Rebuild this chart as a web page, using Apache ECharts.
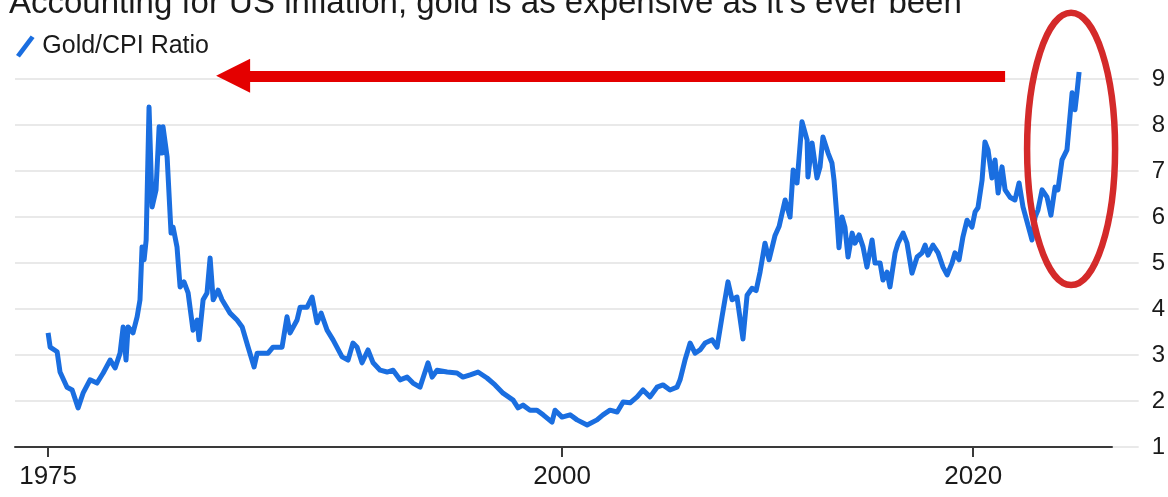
<!DOCTYPE html>
<html>
<head>
<meta charset="utf-8">
<script src="https://cdn.jsdelivr.net/npm/echarts@6/dist/echarts.min.js"></script>
<style>
  html, body { margin: 0; padding: 0; background: #ffffff; }
  #chart { width: 1168px; height: 497px; }
</style>
</head>
<body>
<div id="chart"></div>
<script>
// ---- data ----
const titleText = "Accounting for US inflation, gold is as expensive as it's ever been";
const seriesName = "Gold/CPI Ratio";
const years = [
  1975.00,1975.10,1975.44,1975.58,1975.92,1976.17,1976.46,1976.70,1977.04,1977.38,
  1977.68,1978.02,1978.26,1978.50,1978.65,1978.79,1978.89,1979.13,1979.33,1979.47,
  1979.57,1979.67,1979.77,1979.91,1980.06,1980.25,1980.40,1980.54,1980.59,1980.79,
  1980.98,1981.08,1981.27,1981.42,1981.61,1981.81,1982.05,1982.25,1982.34,1982.54,
  1982.73,1982.88,1983.03,1983.27,1983.46,1983.85,1984.19,1984.44,1984.73,1985.02,
  1985.17,1985.46,1985.70,1985.94,1986.38,1986.62,1986.77,1987.11,1987.26,1987.60,
  1987.84,1988.08,1988.28,1988.57,1988.86,1989.30,1989.59,1989.83,1990.03,1990.27,
  1990.56,1990.81,1991.15,1991.49,1991.78,1992.12,1992.46,1992.75,1993.09,1993.48,
  1993.68,1993.92,1994.41,1994.89,1995.18,1995.53,1995.91,1996.35,1996.74,1997.13,
  1997.62,1997.86,1998.10,1998.44,1998.78,1999.08,1999.51,1999.66,2000.00,2000.39,
  2000.73,2001.22,2001.70,2001.99,2002.33,2002.68,2002.97,2003.31,2003.65,2003.94,
  2004.28,2004.62,2004.91,2005.25,2005.59,2005.74,2005.98,2006.23,2006.47,2006.71,
  2006.96,2007.30,2007.54,2007.78,2008.07,2008.27,2008.51,2008.80,2009.00,2009.24,
  2009.44,2009.63,2009.87,2010.07,2010.36,2010.56,2010.85,2011.09,2011.24,2011.43,
  2011.67,2011.92,2011.96,2012.16,2012.40,2012.55,2012.69,2012.94,2013.13,2013.23,
  2013.37,2013.47,2013.62,2013.76,2013.91,2014.11,2014.25,2014.45,2014.64,2014.83,
  2015.08,2015.22,2015.47,2015.61,2015.81,2015.95,2016.20,2016.34,2016.59,2016.78,
  2017.02,2017.27,2017.51,2017.66,2017.80,2018.04,2018.29,2018.53,2018.73,2018.97,
  2019.11,2019.31,2019.50,2019.70,2019.94,2020.09,2020.23,2020.43,2020.57,2020.72,
  2020.91,2021.06,2021.21,2021.40,2021.55,2021.79,2022.03,2022.23,2022.42,2022.86,
  2023.01,2023.15,2023.35,2023.59,2023.78,2023.98,2024.12,2024.32,2024.56,2024.81,
  2024.95,2025.05,2025.15
];
const ratio = [
  3.48,3.17,3.07,2.63,2.30,2.24,1.85,2.17,2.46,2.39,
  2.61,2.89,2.72,3.04,3.61,2.89,3.61,3.48,3.83,4.20,
  5.35,5.07,5.50,8.39,6.22,6.59,7.96,7.39,7.96,7.30,
  5.65,5.78,5.35,4.48,4.59,4.35,3.54,3.76,3.33,4.20,
  4.35,5.11,4.20,4.41,4.20,3.91,3.76,3.61,3.17,2.74,
  3.04,3.04,3.04,3.17,3.17,3.83,3.48,3.76,4.04,4.04,
  4.26,3.70,3.91,3.54,3.33,2.96,2.89,3.26,3.17,2.83,
  3.11,2.83,2.67,2.63,2.67,2.46,2.52,2.39,2.30,2.83,
  2.52,2.67,2.63,2.61,2.52,2.57,2.63,2.50,2.35,2.17,
  2.02,1.85,1.91,1.80,1.80,1.70,1.54,1.80,1.65,1.70,
  1.59,1.48,1.59,1.70,1.80,1.76,1.98,1.96,2.09,2.24,
  2.09,2.30,2.35,2.24,2.30,2.46,2.89,3.26,3.04,3.11,
  3.26,3.33,3.17,3.83,4.59,4.20,4.26,3.35,4.30,4.45,
  4.40,4.80,5.43,5.07,5.60,5.80,6.37,6.00,7.02,6.74,
  8.07,7.67,6.87,7.61,6.85,7.09,7.74,7.39,7.17,6.80,
  6.00,5.33,6.00,5.78,5.13,5.65,5.43,5.61,5.35,4.91,
  5.50,5.00,5.00,4.63,4.80,4.48,5.22,5.43,5.65,5.43,
  4.78,5.13,5.22,5.39,5.17,5.39,5.22,4.91,4.74,5.00,
  5.22,5.07,5.57,5.93,5.78,6.11,6.20,6.80,7.63,7.46,
  6.85,7.24,6.52,7.09,6.59,6.43,6.37,6.74,6.22,5.50,
  6.00,6.15,6.59,6.43,6.04,6.65,6.59,7.24,7.46,8.70,
  8.33,8.72,9.15
];
const xTickYears = [1975, 2000, 2020];
// annotations (in data space)
const arrowFrom = [2021.55, 9.07];
const arrowTo = [1984.0, 9.07];
const circleCenter = [2024.76, 7.48];
const circleRadius = [2.14, 2.96];

// ---- chart ----
const FONT = "'Liberation Sans', Arial, Helvetica, sans-serif";
const chart = echarts.init(document.getElementById('chart'), null, { renderer: 'canvas' });
const seriesData = years.map((y, i) => [y, ratio[i]]);

const xMin = 1973.39, xMaxB = 2026.75, xMaxA = 2028.03;

chart.setOption({
  animation: false,
  backgroundColor: '#ffffff',
  textStyle: { fontFamily: FONT },
  title: {
    text: titleText,
    left: 4,
    top: -18,
    textStyle: { fontFamily: FONT, fontSize: 33, fontWeight: 'normal', color: '#1a1a1a' }
  },
  legend: {
    data: [seriesName],
    left: 11,
    top: 29,
    itemWidth: 20,
    itemHeight: 22,
    itemGap: 10,
    icon: 'path://M0,20 L15,0 L19,2.5 L4,22.5 Z',
    textStyle: { fontFamily: FONT, fontSize: 25, color: '#1a1a1a', padding: [0, 0, 0, 2] }
  },
  grid: [
    { left: 15, right: 28, top: 79, bottom: 50, containLabel: false },
    { left: 15, right: 56, top: 33, bottom: 50, containLabel: false }
  ],
  xAxis: [
    { gridIndex: 0, type: 'value', min: xMin, max: xMaxA, show: false },
    {
      gridIndex: 1, type: 'value', min: xMin, max: xMaxB,
      axisLine: { show: true, lineStyle: { color: '#3a3a3a', width: 2 } },
      axisTick: { show: true, length: 10, lineStyle: { color: '#3a3a3a', width: 2 }, customValues: xTickYears },
      axisLabel: {
        show: true, margin: 17, fontFamily: FONT, fontSize: 26, color: '#1a1a1a',
        customValues: xTickYears, formatter: v => String(Math.round(v))
      },
      splitLine: { show: false }
    }
  ],
  yAxis: [
    {
      gridIndex: 0, type: 'value', min: 1, max: 9, interval: 1, position: 'right',
      axisLine: { show: false }, axisTick: { show: false },
      axisLabel: { margin: 13, fontFamily: FONT, fontSize: 24, color: '#1a1a1a', align: 'left' },
      splitLine: { show: true, lineStyle: { color: '#e9e9e9', width: 2 } }
    },
    { gridIndex: 1, type: 'value', min: 1, max: 10, interval: 1, show: false }
  ],
  series: [{
    name: seriesName,
    type: 'line',
    xAxisIndex: 1,
    yAxisIndex: 1,
    data: seriesData,
    showSymbol: false,
    symbol: 'none',
    clip: false,
    color: '#1a6ee0',
    lineStyle: { color: '#1a6ee0', width: 5, join: 'round' },
    markLine: {
      silent: true,
      symbol: ['none', 'triangle'],
      symbolSize: [34, 34],
      label: { show: false },
      lineStyle: { color: '#e40000', width: 11, type: 'solid', opacity: 1 },
      data: [[{ coord: arrowFrom }, { coord: arrowTo }]]
    },
    z: 3
  }]
});

function drawEllipse() {
  const c = chart.convertToPixel({ gridIndex: 1 }, circleCenter);
  const e = chart.convertToPixel({ gridIndex: 1 }, [circleCenter[0] + circleRadius[0], circleCenter[1] + circleRadius[1]]);
  chart.setOption({
    graphic: [{
      type: 'ellipse',
      shape: { cx: c[0], cy: c[1], rx: Math.abs(e[0] - c[0]), ry: Math.abs(c[1] - e[1]) },
      style: { fill: 'none', stroke: '#d42a2a', lineWidth: 6.5 },
      z: 100, silent: true
    }]
  });
}
drawEllipse();
</script>
</body>
</html>
